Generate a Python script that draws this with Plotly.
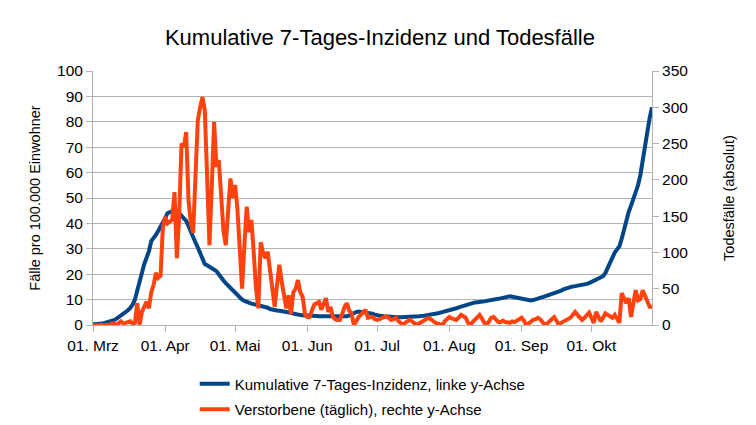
import datetime as dt
import plotly.graph_objects as go

start = dt.date(2020, 3, 1)

incidence = [
    0.3, 0.3, 0.4, 0.5, 0.6, 0.8, 1.0, 1.2, 1.5, 1.9,
    2.4, 3.0, 3.6, 4.3, 5.0, 5.8, 6.7, 8.0, 10.0, 13.5,
    17.7, 21.0, 24.0, 26.5, 29.0, 33.0, 34.0, 35.5, 37.0, 38.5,
    40.0, 42.0, 44.0, 44.5, 45.0, 45.2, 45.0, 44.0, 43.0, 42.0,
    41.0, 39.0, 36.5, 34.6, 32.5, 30.5, 28.0, 25.5, 24.0, 23.5,
    23.0, 22.4, 22.0, 21.2, 20.0, 18.5, 17.5, 16.5, 15.5, 14.5,
    13.5, 12.5, 11.5, 10.5, 10.0, 9.5, 9.0, 8.6, 8.4, 8.2,
    8.0, 8.0, 7.8, 7.6, 7.2, 6.8, 6.3, 6.0, 5.8, 5.7,
    5.6, 5.5, 5.3, 5.1, 5.0, 4.8, 4.5, 4.2, 4.0, 3.9,
    3.8, 3.8, 3.7, 3.6, 3.6, 3.5, 3.5, 3.4, 3.4, 3.3,
    3.3, 3.3, 3.2, 3.2, 3.2, 3.2, 3.3, 3.3, 3.3, 3.4,
    3.8, 4.3, 4.8, 5.1, 5.3, 5.2, 5.0, 4.8, 4.8, 4.7,
    4.4, 4.1, 3.8, 3.6, 3.5, 3.4, 3.3, 3.3, 3.2, 3.2,
    3.2, 3.1, 3.1, 3.1, 3.1, 3.1, 3.1, 3.1, 3.2, 3.3,
    3.4, 3.5, 3.6, 3.7, 3.9, 4.0, 4.2, 4.4, 4.6, 4.8,
    5.0, 5.3, 5.6, 5.9, 6.1, 6.3, 6.6, 6.9, 7.2, 7.6,
    8.0, 8.4, 8.7, 8.8, 8.9, 9.0, 9.0, 9.1, 9.3, 9.5,
    9.6, 9.7, 9.8, 10.0, 10.3, 10.5, 10.8, 11.0, 11.2, 11.3,
    11.1, 10.9, 10.8, 10.6, 10.4, 10.2, 10.0, 9.8, 9.7, 9.8,
    10.0, 10.3, 10.6, 11.0, 11.3, 11.6, 11.8, 12.0, 12.3, 12.6,
    13.0, 13.5, 14.0, 14.4, 14.7, 15.0, 15.2, 15.3, 15.4, 15.5,
    15.7, 15.9, 16.2, 16.5, 16.9, 17.3, 17.8, 18.3, 18.7, 19.2,
    20.5, 22.5, 25.0, 27.0, 28.5, 29.8, 31.0, 34.0, 38.0, 42.0,
    44.5, 47.0, 49.5, 52.0, 55.0, 59.0, 64.0, 70.0, 76.0, 81.5,
    85.7,
]

deaths = [
    0, 0, 0, 0, 0, 0, 0, 0, 2, 2,
    0, 3, 5, 2, 3, 4, 5, 2, 3, 30,
    0, 18, 25, 32, 23, 45, 55, 72, 65, 68,
    135, 149, 140, 142, 145, 183, 92, 150, 250, 245,
    266, 172, 140, 127, 200, 282, 300, 314, 296, 200,
    110, 190, 280, 218, 227, 180, 130, 110, 150, 202,
    175, 193, 160, 90, 50, 110, 163, 128, 145, 100,
    50, 23, 114, 100, 92, 101, 75, 40, 25, 55,
    83, 60, 40, 23, 41, 15, 45, 50, 62, 45,
    39, 15, 11, 11, 20, 28, 30, 32, 21, 30,
    37, 18, 25, 11, 8, 7, 7, 15, 25, 30,
    20, 16, 0, 5, 11, 14, 18, 21, 10, 10,
    11, 8, 7, 8, 10, 11, 12, 9, 7, 8,
    10, 6, 2, 0, 3, 5, 7, 5, 2, 0,
    2, 4, 6, 8, 10, 8, 5, 3, 2, 1,
    0, 5, 9, 11, 9, 8, 7, 10, 14, 12,
    10, 3, 0, 4, 8, 12, 14, 9, 3, 0,
    5, 10, 11, 8, 4, 4, 6, 4, 3, 3,
    5, 4, 6, 8, 10, 6, 0, 2, 5, 7,
    8, 10, 8, 4, 0, 2, 5, 8, 11, 6,
    0, 3, 5, 7, 8, 10, 14, 18, 14, 10,
    7, 10, 14, 17, 10, 3, 18, 12, 5, 10,
    16, 14, 12, 10, 14, 8, 3, 44, 36, 30,
    37, 11, 30, 48, 34, 36, 48, 40, 30, 25,
    25,
]

dates = [start + dt.timedelta(days=i) for i in range(len(incidence))]

tick_dates = ["2020-03-01", "2020-04-01", "2020-05-01", "2020-06-01",
              "2020-07-01", "2020-08-01", "2020-09-01", "2020-10-01"]
tick_labels = ["01. Mrz", "01. Apr", "01. Mai", "01. Jun",
               "01. Jul", "01. Aug", "01. Sep", "01. Okt"]

name_inc = "Kumulative 7-Tages-Inzidenz, linke y-Achse"
name_dead = "Verstorbene (täglich), rechte y-Achse"

FONT = "Liberation Sans, Arial, sans-serif"
GRID = "#b3b3b3"

fig = go.Figure()
fig.add_trace(go.Scatter(x=dates, y=incidence, mode="lines", name=name_inc,
                         legendgroup="a",
                         line=dict(color="#004586", width=4)))
fig.add_trace(go.Scatter(x=dates, y=deaths, mode="lines", name=name_dead,
                         legendgroup="b", yaxis="y2",
                         line=dict(color="#ff420e", width=4)))

fig.update_layout(
    width=756, height=425,
    margin=dict(l=85, r=112, t=63, b=108, autoexpand=False),
    paper_bgcolor="white", plot_bgcolor="white",
    font=dict(family=FONT, size=15, color="#000000"),
    title=dict(text="Kumulative 7-Tages-Inzidenz und Todesfälle",
               x=0.492, xanchor="center", y=0.932, yanchor="middle",
               font=dict(size=22, family=FONT)),
    showlegend=True,
    legend=dict(orientation="v", x=0.182, xanchor="left", y=-0.167, yanchor="top",
                font=dict(size=15, family=FONT), bgcolor="rgba(0,0,0,0)",
                tracegroupgap=3),
    xaxis=dict(
        type="date", automargin=False,
        range=["2020-03-01", "2020-10-27"],
        tickvals=tick_dates, ticktext=tick_labels,
        ticks="outside", ticklen=6, tickcolor=GRID,
        showgrid=False, showline=True, linecolor=GRID, linewidth=1,
        zeroline=False, tickfont=dict(size=15.5),
    ),
    yaxis=dict(
        range=[0, 100], dtick=10, tick0=0, automargin=False,
        ticks="outside", ticklen=6, tickcolor=GRID,
        showgrid=True, gridcolor=GRID, gridwidth=1,
        showline=True, linecolor=GRID, zeroline=False,
        title=dict(text="Fälle pro 100.000 Einwohner", font=dict(size=14.5), standoff=12),
        tickfont=dict(size=15.5),
    ),
    yaxis2=dict(
        range=[0, 350], dtick=50, tick0=0, overlaying="y", side="right",
        automargin=False,
        ticks="outside", ticklen=6, tickcolor=GRID,
        showgrid=False, showline=True, linecolor=GRID, zeroline=False,
        title=dict(text="Todesfälle (absolut)", font=dict(size=14.5), standoff=36),
        tickfont=dict(size=15.5),
    ),
)

fig.write_html("out.html")
